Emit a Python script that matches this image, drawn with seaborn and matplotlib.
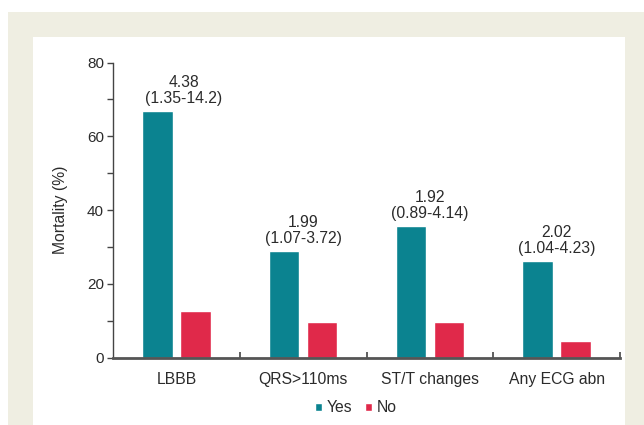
import pandas as pd
import matplotlib.pyplot as plt
import seaborn as sns
from matplotlib.patches import Rectangle
from matplotlib.ticker import MultipleLocator, FixedLocator

categories = ["LBBB", "QRS>110ms", "ST/T changes", "Any ECG abn"]
yes_mortality = [66.9, 28.9, 35.7, 26.2]
no_mortality = [12.7, 9.7, 9.7, 4.6]
odds_ratio = ["4.38", "1.99", "1.92", "2.02"]
conf_int = ["(1.35-14.2)", "(1.07-3.72)", "(0.89-4.14)", "(1.04-4.23)"]

df = pd.DataFrame(
    {
        "category": categories * 2,
        "mortality": yes_mortality + no_mortality,
        "group": ["Yes"] * len(categories) + ["No"] * len(categories),
    }
)

color_palette = {"Yes": "#0b8390", "No": "#e0294a"}
text_color = "#2b2b2b"

sns.set_style("ticks")
plt.rcParams.update(
    {
        "font.family": ["Liberation Sans", "DejaVu Sans"],
        "font.size": 11.3,
        "text.color": text_color,
        "axes.labelcolor": text_color,
        "xtick.color": "#444444",
        "ytick.color": "#444444",
        "xtick.labelcolor": text_color,
        "ytick.labelcolor": text_color,
        "xtick.labelsize": 11.3,
        "ytick.labelsize": 11,
    }
)

fig = plt.figure(figsize=(6.44, 4.25), dpi=100)
fig.patch.set_facecolor("white")
# beige frame + white panel
fig.add_artist(
    Rectangle((8 / 644, 0), 1, 413 / 425, transform=fig.transFigure,
              facecolor="#efeee2", edgecolor="none", zorder=-3)
)
fig.add_artist(
    Rectangle((33 / 644, 0), 592 / 644, 388 / 425, transform=fig.transFigure,
              facecolor="white", edgecolor="none", zorder=-2)
)

ax = fig.add_axes([113 / 644, 67.3 / 425, 507 / 644, 295.2 / 425])
ax.set_facecolor("none")

sns.barplot(
    data=df,
    x="category",
    y="mortality",
    hue="group",
    hue_order=list(color_palette.keys()),
    palette=color_palette,
    width=0.6,
    gap=0.2,
    saturation=1,
    errorbar=None,
    ax=ax,
)

for i, (orr, ci) in enumerate(zip(odds_ratio, conf_int)):
    x_text = i + (0.06 if i == 0 else 0)
    ax.annotate(
        f"{orr}\n{ci}",
        xy=(x_text, yes_mortality[i]),
        xytext=(0, 3.5),
        textcoords="offset points",
        ha="center",
        va="bottom",
        linespacing=1.12,
        fontsize=11.3,
    )

ax.set_xlim(-0.5, 3.5)
ax.set_ylim(0, 80)
ax.yaxis.set_major_locator(MultipleLocator(20))
ax.yaxis.set_minor_locator(MultipleLocator(10))
ax.tick_params(axis="y", which="both", direction="out", length=4.5, width=1, pad=2)

ax.xaxis.set_minor_locator(FixedLocator([0.5, 1.5, 2.5, 3.5]))
ax.tick_params(axis="x", which="major", length=0, pad=10)
ax.tick_params(axis="x", which="minor", direction="in", length=4, width=1.2)

ax.set_xlabel("")
ax.set_ylabel("Mortality (%)", fontsize=11.3, labelpad=14)

sns.despine(ax=ax)
ax.spines["left"].set_color("#444444")
ax.spines["left"].set_linewidth(1)
ax.spines["bottom"].set_color("#555555")
ax.spines["bottom"].set_linewidth(2)

handles, labels = ax.get_legend_handles_labels()
ax.legend(
    handles,
    labels,
    ncol=2,
    frameon=False,
    loc="center",
    bbox_to_anchor=(356 / 644, 17 / 425),
    bbox_transform=fig.transFigure,
    handlelength=0.45,
    handleheight=0.45,
    handletextpad=0.3,
    columnspacing=0.8,
    fontsize=11.3,
)

fig.savefig("out.png", dpi=100)
